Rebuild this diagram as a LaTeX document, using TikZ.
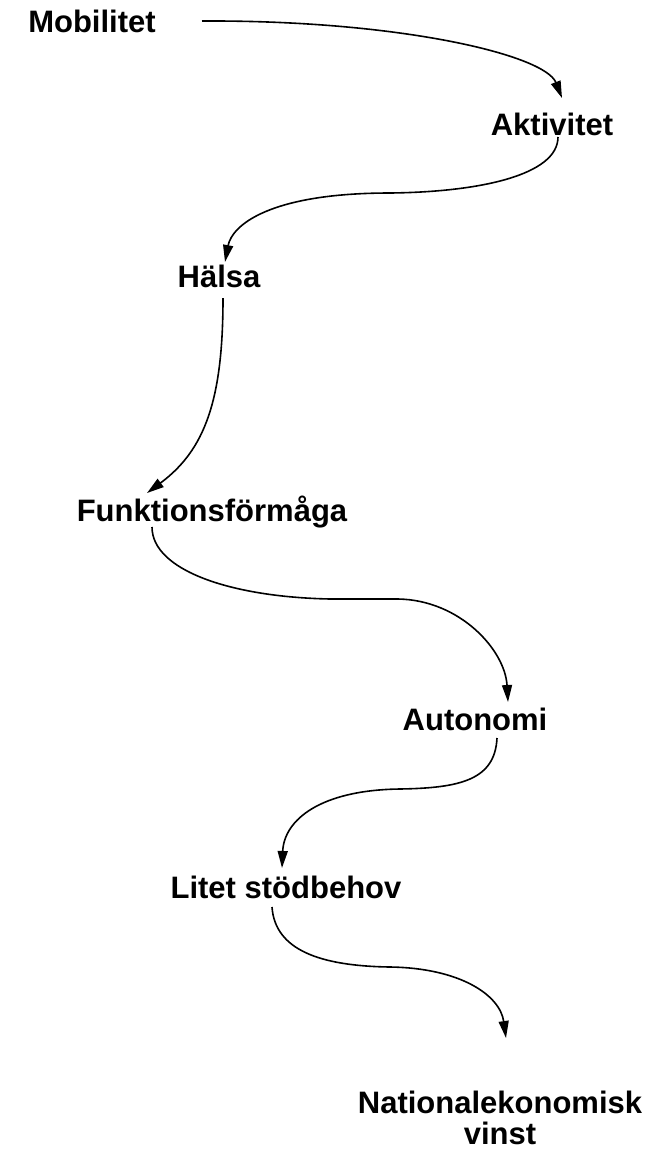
\documentclass[tikz,border=0pt]{standalone}
\usepackage{fontspec}
\setmainfont{Liberation Sans}
\usetikzlibrary{arrows.meta,calc}
\begin{document}
\begin{tikzpicture}[x=1pt,y=-1pt,
  lbl/.style={anchor=base,inner sep=0pt,font=\fontsize{31}{35}\selectfont\bfseries},
  con/.style={line width=1.6pt,-{Triangle[length=17pt,width=10pt]}}]
\useasboundingbox[fill=white] (0,0) rectangle (662,1152);
\node[lbl] (mob) at (92,32) {Mobilitet};
\node[lbl] (akt) at (552,135) {Aktivitet};
\node[lbl] (hal) at (219,287) {Hälsa};
\node[lbl] (fun) at (212,521) {Funktionsförmåga};
\node[lbl] (aut) at (475,730) {Autonomi};
\node[lbl] (lit) at (286,898) {Litet stödbehov};
\node[lbl] (nat) at (500,1113) {Nationalekonomisk};
\node[lbl] (vin) at (500,1144) {vinst};
\draw[con] ($(mob.base)+(110,-11)$) .. controls (400,20) and (545,55) .. ($(akt.base)+(10,-37)$);
\draw[con] ($(akt.base)+(6,2)$) .. controls (558,175) and (480,192) .. (390,193)
  .. controls (270,193) and (232,225) .. ($(hal.base)+(6,-25)$);
\draw[con] ($(hal.base)+(4,11)$) .. controls (223,400) and (205,450) .. ($(fun.base)+(-65,-28)$);
\draw[con] ($(fun.base)+(-60,6)$) .. controls (152,570) and (230,597) .. (330,599)
  -- (398,599) .. controls (460,600) and (505,650) .. ($(aut.base)+(33,-28)$);
\draw[con] ($(aut.base)+(22,8)$) .. controls (495,780) and (460,788) .. (400,789)
  .. controls (320,790) and (284,820) .. ($(lit.base)+(-4,-30)$);
\draw[con] ($(lit.base)+(-14,9)$) .. controls (275,950) and (320,966) .. (390,967)
  .. controls (460,968) and (500,995) .. ($(nat.base)+(6,-75)$);
\end{tikzpicture}
\end{document}
